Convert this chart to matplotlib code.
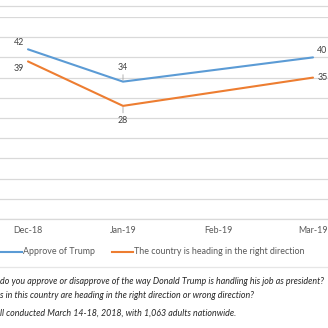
import matplotlib
matplotlib.use("Agg")
import matplotlib.pyplot as plt
from matplotlib.lines import Line2D

# Survey series (Feb-19 has no reading; the line joins Jan to Mar)
months = ["Dec-18", "Jan-19", "Feb-19", "Mar-19"]
approve_x = [0, 1, 3]
approve = [42, 34, 40]
direction_x = [0, 1, 3]
direction = [39, 28, 35]
series_names = ["Approve of Trump", "The country is heading in the right direction"]
notes = [
    "do you approve or disapprove of the way Donald Trump is handling his job as president?",
    "s in this country are heading in the right direction or wrong direction?",
    "ll conducted March 14-18, 2018, with 1,063 adults nationwide.",
]

BLUE = "#5B9BD5"
ORANGE = "#ED7D31"
GRID = "#D9D9D9"
TXT = "#595959"

plt.rcParams["font.family"] = ["Lato", "DejaVu Sans"]

W = H = 328
fig = plt.figure(figsize=(W / 100, H / 100), dpi=100)


def fy(py):
    return 1 - py / H


ax = fig.add_axes([0, fy(219), 1, fy(17) - fy(219)])
ax.set_xlim(-28 / 95, (W - 28) / 95)
ax.set_ylim(0, 50)
ax.set_yticks(range(0, 51, 5))
ax.yaxis.grid(True, color=GRID, lw=0.9)
ax.set_axisbelow(True)
for s in ["top", "right", "left"]:
    ax.spines[s].set_visible(False)
ax.spines["bottom"].set_color(GRID)
ax.spines["bottom"].set_linewidth(0.9)
ax.set_yticklabels([])
ax.tick_params(axis="y", length=0)
ax.set_xticks(range(len(months)))
ax.set_xticklabels(months, fontsize=6.4, color=TXT)
ax.tick_params(axis="x", length=0, pad=5)

ax.plot(approve_x, approve, color=BLUE, lw=1.5, solid_capstyle="round")
ax.plot(direction_x, direction, color=ORANGE, lw=1.5, solid_capstyle="round")

lbl = dict(fontsize=6.4, color="#404040", textcoords="offset points")
# end-point data labels: (x, value, offset, alignment)
for x, v, off, ha, va in [
    (approve_x[0], approve[0], (-3, 2), "right", "bottom"),
    (approve_x[2], approve[2], (3, 2), "left", "bottom"),
    (direction_x[0], direction[0], (-3, -2), "right", "top"),
    (direction_x[2], direction[2], (3, 0), "left", "center"),
]:
    ax.annotate(str(v), (x, v), xytext=off, ha=ha, va=va, **lbl)

# Jan-19 labels sit off the point with short leader lines
lead = dict(arrowstyle="-", color="#A6A6A6", lw=0.6, shrinkA=0, shrinkB=1)
ax.annotate(str(approve[1]), (approve_x[1], approve[1]), xytext=(0, 7),
            ha="center", va="bottom", arrowprops=lead, **lbl)
ax.annotate(str(direction[1]), (direction_x[1], direction[1]), xytext=(0, -7),
            ha="center", va="top", arrowprops=lead, **lbl)

# rule above the plot area
fig.add_artist(Line2D([0, 1], [fy(6), fy(6)], color=GRID, lw=0.9))

# legend
ly = fy(252)
fig.add_artist(Line2D([1 / W, 22 / W], [ly, ly], color=BLUE, lw=1.5))
fig.text(23 / W, ly, series_names[0], fontsize=6.4, color=TXT, va="center")
fig.add_artist(Line2D([112 / W, 133 / W], [ly, ly], color=ORANGE, lw=1.5))
fig.text(134 / W, ly, series_names[1], fontsize=6.4, color=TXT, va="center")

# separator and footnotes
fig.add_artist(Line2D([0, 1], [fy(267), fy(267)], color="#E6E6E6", lw=0.9))
for py, t in zip([281, 295, 313], notes):
    fig.text(0, fy(py), t, fontsize=6.4, style="italic", color="#262626",
             va="center")

fig.savefig("out.png", dpi=100, facecolor="white")
